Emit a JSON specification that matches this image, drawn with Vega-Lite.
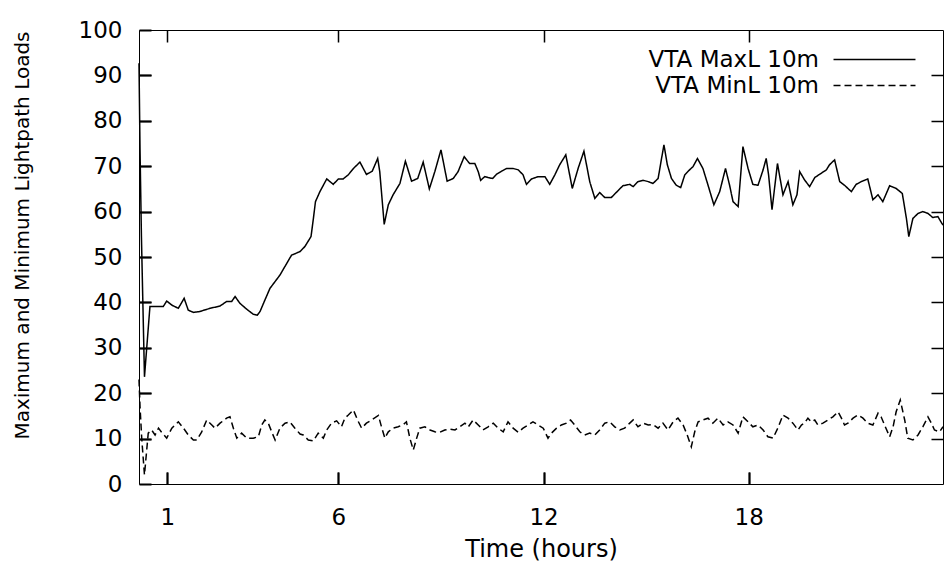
{
  "$schema": "https://vega.github.io/schema/vega-lite/v6.json",
  "width": 804,
  "height": 454,
  "autosize": {"type": "none"},
  "padding": {"left": 139, "top": 30, "right": 6, "bottom": 90},
  "background": "white",
  "config": {
    "font": "DejaVu Sans",
    "view": {"stroke": "#000", "strokeWidth": 1}
  },
  "data": {
    "values": [
      {"hours": 0.17, "load": 92.7, "series": "VTA MaxL 10m"},
      {"hours": 0.2, "load": 73.6, "series": "VTA MaxL 10m"},
      {"hours": 0.24, "load": 54.8, "series": "VTA MaxL 10m"},
      {"hours": 0.33, "load": 23.6, "series": "VTA MaxL 10m"},
      {"hours": 0.49, "load": 39.1, "series": "VTA MaxL 10m"},
      {"hours": 0.88, "load": 39.1, "series": "VTA MaxL 10m"},
      {"hours": 0.98, "load": 40.3, "series": "VTA MaxL 10m"},
      {"hours": 1.13, "load": 39.4, "series": "VTA MaxL 10m"},
      {"hours": 1.32, "load": 38.7, "series": "VTA MaxL 10m"},
      {"hours": 1.49, "load": 40.9, "series": "VTA MaxL 10m"},
      {"hours": 1.61, "load": 38.3, "series": "VTA MaxL 10m"},
      {"hours": 1.76, "load": 37.8, "series": "VTA MaxL 10m"},
      {"hours": 1.95, "load": 38.0, "series": "VTA MaxL 10m"},
      {"hours": 2.25, "load": 38.7, "series": "VTA MaxL 10m"},
      {"hours": 2.54, "load": 39.2, "series": "VTA MaxL 10m"},
      {"hours": 2.73, "load": 40.2, "series": "VTA MaxL 10m"},
      {"hours": 2.88, "load": 40.2, "series": "VTA MaxL 10m"},
      {"hours": 2.98, "load": 41.3, "series": "VTA MaxL 10m"},
      {"hours": 3.12, "load": 39.8, "series": "VTA MaxL 10m"},
      {"hours": 3.32, "load": 38.5, "series": "VTA MaxL 10m"},
      {"hours": 3.51, "load": 37.4, "series": "VTA MaxL 10m"},
      {"hours": 3.63, "load": 37.2, "series": "VTA MaxL 10m"},
      {"hours": 3.71, "load": 38.0, "series": "VTA MaxL 10m"},
      {"hours": 3.85, "load": 40.5, "series": "VTA MaxL 10m"},
      {"hours": 4.0, "load": 43.1, "series": "VTA MaxL 10m"},
      {"hours": 4.29, "load": 46.0, "series": "VTA MaxL 10m"},
      {"hours": 4.63, "load": 50.4, "series": "VTA MaxL 10m"},
      {"hours": 4.88, "load": 51.2, "series": "VTA MaxL 10m"},
      {"hours": 5.02, "load": 52.3, "series": "VTA MaxL 10m"},
      {"hours": 5.2, "load": 54.5, "series": "VTA MaxL 10m"},
      {"hours": 5.27, "load": 58.5, "series": "VTA MaxL 10m"},
      {"hours": 5.33, "load": 62.2, "series": "VTA MaxL 10m"},
      {"hours": 5.46, "load": 64.4, "series": "VTA MaxL 10m"},
      {"hours": 5.66, "load": 67.2, "series": "VTA MaxL 10m"},
      {"hours": 5.85, "load": 66.0, "series": "VTA MaxL 10m"},
      {"hours": 6.0, "load": 67.2, "series": "VTA MaxL 10m"},
      {"hours": 6.14, "load": 67.2, "series": "VTA MaxL 10m"},
      {"hours": 6.29, "load": 68.1, "series": "VTA MaxL 10m"},
      {"hours": 6.44, "load": 69.5, "series": "VTA MaxL 10m"},
      {"hours": 6.63, "load": 70.9, "series": "VTA MaxL 10m"},
      {"hours": 6.82, "load": 68.2, "series": "VTA MaxL 10m"},
      {"hours": 6.99, "load": 68.9, "series": "VTA MaxL 10m"},
      {"hours": 7.15, "load": 71.7, "series": "VTA MaxL 10m"},
      {"hours": 7.21, "load": 68.8, "series": "VTA MaxL 10m"},
      {"hours": 7.34, "load": 57.2, "series": "VTA MaxL 10m"},
      {"hours": 7.46, "load": 61.5, "series": "VTA MaxL 10m"},
      {"hours": 7.6, "load": 63.7, "series": "VTA MaxL 10m"},
      {"hours": 7.8, "load": 66.2, "series": "VTA MaxL 10m"},
      {"hours": 7.96, "load": 71.1, "series": "VTA MaxL 10m"},
      {"hours": 8.14, "load": 66.7, "series": "VTA MaxL 10m"},
      {"hours": 8.32, "load": 67.3, "series": "VTA MaxL 10m"},
      {"hours": 8.48, "load": 70.9, "series": "VTA MaxL 10m"},
      {"hours": 8.66, "load": 65.0, "series": "VTA MaxL 10m"},
      {"hours": 8.82, "load": 68.8, "series": "VTA MaxL 10m"},
      {"hours": 9.0, "load": 73.6, "series": "VTA MaxL 10m"},
      {"hours": 9.18, "load": 66.7, "series": "VTA MaxL 10m"},
      {"hours": 9.36, "load": 67.3, "series": "VTA MaxL 10m"},
      {"hours": 9.5, "load": 68.8, "series": "VTA MaxL 10m"},
      {"hours": 9.68, "load": 72.1, "series": "VTA MaxL 10m"},
      {"hours": 9.75, "load": 71.4, "series": "VTA MaxL 10m"},
      {"hours": 9.84, "load": 70.6, "series": "VTA MaxL 10m"},
      {"hours": 9.99, "load": 70.6, "series": "VTA MaxL 10m"},
      {"hours": 10.09, "load": 68.8, "series": "VTA MaxL 10m"},
      {"hours": 10.16, "load": 66.9, "series": "VTA MaxL 10m"},
      {"hours": 10.28, "load": 67.7, "series": "VTA MaxL 10m"},
      {"hours": 10.38, "load": 67.5, "series": "VTA MaxL 10m"},
      {"hours": 10.51, "load": 67.3, "series": "VTA MaxL 10m"},
      {"hours": 10.62, "load": 68.2, "series": "VTA MaxL 10m"},
      {"hours": 10.77, "load": 68.9, "series": "VTA MaxL 10m"},
      {"hours": 10.92, "load": 69.5, "series": "VTA MaxL 10m"},
      {"hours": 11.11, "load": 69.5, "series": "VTA MaxL 10m"},
      {"hours": 11.26, "load": 69.2, "series": "VTA MaxL 10m"},
      {"hours": 11.4, "load": 68.1, "series": "VTA MaxL 10m"},
      {"hours": 11.5, "load": 66.0, "series": "VTA MaxL 10m"},
      {"hours": 11.65, "load": 67.2, "series": "VTA MaxL 10m"},
      {"hours": 11.84, "load": 67.7, "series": "VTA MaxL 10m"},
      {"hours": 12.04, "load": 67.7, "series": "VTA MaxL 10m"},
      {"hours": 12.18, "load": 66.0, "series": "VTA MaxL 10m"},
      {"hours": 12.33, "load": 68.1, "series": "VTA MaxL 10m"},
      {"hours": 12.47, "load": 70.3, "series": "VTA MaxL 10m"},
      {"hours": 12.65, "load": 72.5, "series": "VTA MaxL 10m"},
      {"hours": 12.84, "load": 65.1, "series": "VTA MaxL 10m"},
      {"hours": 13.01, "load": 69.5, "series": "VTA MaxL 10m"},
      {"hours": 13.18, "load": 73.3, "series": "VTA MaxL 10m"},
      {"hours": 13.35, "load": 66.6, "series": "VTA MaxL 10m"},
      {"hours": 13.5, "load": 62.9, "series": "VTA MaxL 10m"},
      {"hours": 13.64, "load": 64.2, "series": "VTA MaxL 10m"},
      {"hours": 13.79, "load": 63.1, "series": "VTA MaxL 10m"},
      {"hours": 13.98, "load": 63.1, "series": "VTA MaxL 10m"},
      {"hours": 14.15, "load": 64.4, "series": "VTA MaxL 10m"},
      {"hours": 14.32, "load": 65.7, "series": "VTA MaxL 10m"},
      {"hours": 14.52, "load": 66.0, "series": "VTA MaxL 10m"},
      {"hours": 14.62, "load": 65.5, "series": "VTA MaxL 10m"},
      {"hours": 14.76, "load": 66.6, "series": "VTA MaxL 10m"},
      {"hours": 14.91, "load": 66.9, "series": "VTA MaxL 10m"},
      {"hours": 15.06, "load": 66.6, "series": "VTA MaxL 10m"},
      {"hours": 15.2, "load": 66.2, "series": "VTA MaxL 10m"},
      {"hours": 15.35, "load": 67.3, "series": "VTA MaxL 10m"},
      {"hours": 15.45, "load": 71.7, "series": "VTA MaxL 10m"},
      {"hours": 15.52, "load": 74.7, "series": "VTA MaxL 10m"},
      {"hours": 15.62, "load": 70.3, "series": "VTA MaxL 10m"},
      {"hours": 15.74, "load": 67.3, "series": "VTA MaxL 10m"},
      {"hours": 15.88, "load": 65.8, "series": "VTA MaxL 10m"},
      {"hours": 16.01, "load": 65.3, "series": "VTA MaxL 10m"},
      {"hours": 16.13, "load": 68.1, "series": "VTA MaxL 10m"},
      {"hours": 16.27, "load": 69.2, "series": "VTA MaxL 10m"},
      {"hours": 16.37, "load": 69.9, "series": "VTA MaxL 10m"},
      {"hours": 16.5, "load": 71.7, "series": "VTA MaxL 10m"},
      {"hours": 16.66, "load": 69.5, "series": "VTA MaxL 10m"},
      {"hours": 16.81, "load": 65.8, "series": "VTA MaxL 10m"},
      {"hours": 16.98, "load": 61.5, "series": "VTA MaxL 10m"},
      {"hours": 17.15, "load": 64.4, "series": "VTA MaxL 10m"},
      {"hours": 17.32, "load": 69.5, "series": "VTA MaxL 10m"},
      {"hours": 17.44, "load": 65.8, "series": "VTA MaxL 10m"},
      {"hours": 17.54, "load": 62.2, "series": "VTA MaxL 10m"},
      {"hours": 17.69, "load": 61.1, "series": "VTA MaxL 10m"},
      {"hours": 17.83, "load": 74.3, "series": "VTA MaxL 10m"},
      {"hours": 17.98, "load": 69.5, "series": "VTA MaxL 10m"},
      {"hours": 18.12, "load": 66.0, "series": "VTA MaxL 10m"},
      {"hours": 18.27, "load": 65.8, "series": "VTA MaxL 10m"},
      {"hours": 18.42, "load": 69.2, "series": "VTA MaxL 10m"},
      {"hours": 18.51, "load": 71.7, "series": "VTA MaxL 10m"},
      {"hours": 18.58, "load": 68.1, "series": "VTA MaxL 10m"},
      {"hours": 18.68, "load": 60.4, "series": "VTA MaxL 10m"},
      {"hours": 18.84, "load": 70.6, "series": "VTA MaxL 10m"},
      {"hours": 19.0, "load": 63.7, "series": "VTA MaxL 10m"},
      {"hours": 19.15, "load": 66.6, "series": "VTA MaxL 10m"},
      {"hours": 19.29, "load": 61.5, "series": "VTA MaxL 10m"},
      {"hours": 19.41, "load": 63.7, "series": "VTA MaxL 10m"},
      {"hours": 19.49, "load": 68.8, "series": "VTA MaxL 10m"},
      {"hours": 19.63, "load": 67.0, "series": "VTA MaxL 10m"},
      {"hours": 19.78, "load": 65.5, "series": "VTA MaxL 10m"},
      {"hours": 19.93, "load": 67.5, "series": "VTA MaxL 10m"},
      {"hours": 20.07, "load": 68.2, "series": "VTA MaxL 10m"},
      {"hours": 20.27, "load": 69.2, "series": "VTA MaxL 10m"},
      {"hours": 20.36, "load": 70.3, "series": "VTA MaxL 10m"},
      {"hours": 20.51, "load": 71.4, "series": "VTA MaxL 10m"},
      {"hours": 20.66, "load": 66.6, "series": "VTA MaxL 10m"},
      {"hours": 20.8, "load": 65.8, "series": "VTA MaxL 10m"},
      {"hours": 21.0, "load": 64.4, "series": "VTA MaxL 10m"},
      {"hours": 21.14, "load": 66.0, "series": "VTA MaxL 10m"},
      {"hours": 21.29, "load": 66.6, "series": "VTA MaxL 10m"},
      {"hours": 21.48, "load": 67.2, "series": "VTA MaxL 10m"},
      {"hours": 21.63, "load": 62.6, "series": "VTA MaxL 10m"},
      {"hours": 21.78, "load": 63.7, "series": "VTA MaxL 10m"},
      {"hours": 21.92, "load": 62.2, "series": "VTA MaxL 10m"},
      {"hours": 22.12, "load": 65.7, "series": "VTA MaxL 10m"},
      {"hours": 22.31, "load": 65.1, "series": "VTA MaxL 10m"},
      {"hours": 22.49, "load": 64.0, "series": "VTA MaxL 10m"},
      {"hours": 22.61, "load": 58.5, "series": "VTA MaxL 10m"},
      {"hours": 22.68, "load": 54.5, "series": "VTA MaxL 10m"},
      {"hours": 22.8, "load": 58.5, "series": "VTA MaxL 10m"},
      {"hours": 22.95, "load": 59.6, "series": "VTA MaxL 10m"},
      {"hours": 23.09, "load": 60.0, "series": "VTA MaxL 10m"},
      {"hours": 23.24, "load": 59.6, "series": "VTA MaxL 10m"},
      {"hours": 23.38, "load": 58.7, "series": "VTA MaxL 10m"},
      {"hours": 23.53, "load": 58.9, "series": "VTA MaxL 10m"},
      {"hours": 23.68, "load": 57.0, "series": "VTA MaxL 10m"},

      {"hours": 0.17, "load": 23.0, "series": "VTA MinL 10m"},
      {"hours": 0.2, "load": 17.0, "series": "VTA MinL 10m"},
      {"hours": 0.25, "load": 10.0, "series": "VTA MinL 10m"},
      {"hours": 0.33, "load": 2.0, "series": "VTA MinL 10m"},
      {"hours": 0.44, "load": 11.2, "series": "VTA MinL 10m"},
      {"hours": 0.54, "load": 11.9, "series": "VTA MinL 10m"},
      {"hours": 0.64, "load": 10.8, "series": "VTA MinL 10m"},
      {"hours": 0.74, "load": 12.3, "series": "VTA MinL 10m"},
      {"hours": 0.83, "load": 11.4, "series": "VTA MinL 10m"},
      {"hours": 0.98, "load": 10.1, "series": "VTA MinL 10m"},
      {"hours": 1.13, "load": 12.3, "series": "VTA MinL 10m"},
      {"hours": 1.32, "load": 13.7, "series": "VTA MinL 10m"},
      {"hours": 1.47, "load": 12.3, "series": "VTA MinL 10m"},
      {"hours": 1.61, "load": 10.8, "series": "VTA MinL 10m"},
      {"hours": 1.76, "load": 9.7, "series": "VTA MinL 10m"},
      {"hours": 1.86, "load": 9.7, "series": "VTA MinL 10m"},
      {"hours": 2.0, "load": 11.4, "series": "VTA MinL 10m"},
      {"hours": 2.15, "load": 14.1, "series": "VTA MinL 10m"},
      {"hours": 2.3, "load": 13.0, "series": "VTA MinL 10m"},
      {"hours": 2.39, "load": 12.3, "series": "VTA MinL 10m"},
      {"hours": 2.54, "load": 13.4, "series": "VTA MinL 10m"},
      {"hours": 2.73, "load": 14.5, "series": "VTA MinL 10m"},
      {"hours": 2.83, "load": 14.8, "series": "VTA MinL 10m"},
      {"hours": 2.93, "load": 12.3, "series": "VTA MinL 10m"},
      {"hours": 3.03, "load": 10.1, "series": "VTA MinL 10m"},
      {"hours": 3.17, "load": 11.2, "series": "VTA MinL 10m"},
      {"hours": 3.32, "load": 10.1, "series": "VTA MinL 10m"},
      {"hours": 3.51, "load": 10.1, "series": "VTA MinL 10m"},
      {"hours": 3.66, "load": 10.4, "series": "VTA MinL 10m"},
      {"hours": 3.76, "load": 13.0, "series": "VTA MinL 10m"},
      {"hours": 3.85, "load": 14.1, "series": "VTA MinL 10m"},
      {"hours": 3.95, "load": 13.4, "series": "VTA MinL 10m"},
      {"hours": 4.05, "load": 11.5, "series": "VTA MinL 10m"},
      {"hours": 4.15, "load": 9.7, "series": "VTA MinL 10m"},
      {"hours": 4.29, "load": 12.3, "series": "VTA MinL 10m"},
      {"hours": 4.44, "load": 13.4, "series": "VTA MinL 10m"},
      {"hours": 4.58, "load": 13.7, "series": "VTA MinL 10m"},
      {"hours": 4.73, "load": 12.3, "series": "VTA MinL 10m"},
      {"hours": 4.88, "load": 11.0, "series": "VTA MinL 10m"},
      {"hours": 4.97, "load": 10.8, "series": "VTA MinL 10m"},
      {"hours": 5.12, "load": 9.7, "series": "VTA MinL 10m"},
      {"hours": 5.27, "load": 9.5, "series": "VTA MinL 10m"},
      {"hours": 5.41, "load": 11.2, "series": "VTA MinL 10m"},
      {"hours": 5.56, "load": 10.1, "series": "VTA MinL 10m"},
      {"hours": 5.66, "load": 11.9, "series": "VTA MinL 10m"},
      {"hours": 5.8, "load": 13.4, "series": "VTA MinL 10m"},
      {"hours": 5.95, "load": 13.9, "series": "VTA MinL 10m"},
      {"hours": 6.09, "load": 12.6, "series": "VTA MinL 10m"},
      {"hours": 6.19, "load": 14.5, "series": "VTA MinL 10m"},
      {"hours": 6.29, "load": 15.2, "series": "VTA MinL 10m"},
      {"hours": 6.44, "load": 16.3, "series": "VTA MinL 10m"},
      {"hours": 6.56, "load": 14.1, "series": "VTA MinL 10m"},
      {"hours": 6.68, "load": 12.3, "series": "VTA MinL 10m"},
      {"hours": 6.82, "load": 13.4, "series": "VTA MinL 10m"},
      {"hours": 6.97, "load": 14.1, "series": "VTA MinL 10m"},
      {"hours": 7.17, "load": 15.1, "series": "VTA MinL 10m"},
      {"hours": 7.26, "load": 12.6, "series": "VTA MinL 10m"},
      {"hours": 7.36, "load": 10.1, "series": "VTA MinL 10m"},
      {"hours": 7.46, "load": 11.5, "series": "VTA MinL 10m"},
      {"hours": 7.6, "load": 12.3, "series": "VTA MinL 10m"},
      {"hours": 7.75, "load": 12.6, "series": "VTA MinL 10m"},
      {"hours": 7.9, "load": 13.1, "series": "VTA MinL 10m"},
      {"hours": 7.99, "load": 13.7, "series": "VTA MinL 10m"},
      {"hours": 8.09, "load": 10.1, "series": "VTA MinL 10m"},
      {"hours": 8.19, "load": 7.5, "series": "VTA MinL 10m"},
      {"hours": 8.29, "load": 10.1, "series": "VTA MinL 10m"},
      {"hours": 8.38, "load": 12.3, "series": "VTA MinL 10m"},
      {"hours": 8.53, "load": 12.6, "series": "VTA MinL 10m"},
      {"hours": 8.68, "load": 11.9, "series": "VTA MinL 10m"},
      {"hours": 8.82, "load": 11.5, "series": "VTA MinL 10m"},
      {"hours": 8.97, "load": 11.4, "series": "VTA MinL 10m"},
      {"hours": 9.11, "load": 11.9, "series": "VTA MinL 10m"},
      {"hours": 9.26, "load": 12.1, "series": "VTA MinL 10m"},
      {"hours": 9.41, "load": 11.9, "series": "VTA MinL 10m"},
      {"hours": 9.55, "load": 12.6, "series": "VTA MinL 10m"},
      {"hours": 9.7, "load": 13.4, "series": "VTA MinL 10m"},
      {"hours": 9.8, "load": 12.6, "series": "VTA MinL 10m"},
      {"hours": 9.94, "load": 14.1, "series": "VTA MinL 10m"},
      {"hours": 10.09, "load": 13.0, "series": "VTA MinL 10m"},
      {"hours": 10.23, "load": 11.9, "series": "VTA MinL 10m"},
      {"hours": 10.38, "load": 12.6, "series": "VTA MinL 10m"},
      {"hours": 10.53, "load": 13.4, "series": "VTA MinL 10m"},
      {"hours": 10.67, "load": 12.3, "series": "VTA MinL 10m"},
      {"hours": 10.82, "load": 11.5, "series": "VTA MinL 10m"},
      {"hours": 10.96, "load": 13.7, "series": "VTA MinL 10m"},
      {"hours": 11.11, "load": 12.3, "series": "VTA MinL 10m"},
      {"hours": 11.26, "load": 11.4, "series": "VTA MinL 10m"},
      {"hours": 11.4, "load": 12.3, "series": "VTA MinL 10m"},
      {"hours": 11.55, "load": 13.0, "series": "VTA MinL 10m"},
      {"hours": 11.69, "load": 13.7, "series": "VTA MinL 10m"},
      {"hours": 11.84, "load": 13.0, "series": "VTA MinL 10m"},
      {"hours": 11.99, "load": 12.3, "series": "VTA MinL 10m"},
      {"hours": 12.13, "load": 10.1, "series": "VTA MinL 10m"},
      {"hours": 12.23, "load": 11.2, "series": "VTA MinL 10m"},
      {"hours": 12.38, "load": 12.3, "series": "VTA MinL 10m"},
      {"hours": 12.52, "load": 13.0, "series": "VTA MinL 10m"},
      {"hours": 12.67, "load": 13.4, "series": "VTA MinL 10m"},
      {"hours": 12.79, "load": 14.1, "series": "VTA MinL 10m"},
      {"hours": 12.91, "load": 13.0, "series": "VTA MinL 10m"},
      {"hours": 13.06, "load": 11.5, "series": "VTA MinL 10m"},
      {"hours": 13.2, "load": 10.8, "series": "VTA MinL 10m"},
      {"hours": 13.35, "load": 11.2, "series": "VTA MinL 10m"},
      {"hours": 13.5, "load": 10.8, "series": "VTA MinL 10m"},
      {"hours": 13.64, "load": 11.9, "series": "VTA MinL 10m"},
      {"hours": 13.79, "load": 13.4, "series": "VTA MinL 10m"},
      {"hours": 13.93, "load": 13.7, "series": "VTA MinL 10m"},
      {"hours": 14.08, "load": 12.6, "series": "VTA MinL 10m"},
      {"hours": 14.23, "load": 11.9, "series": "VTA MinL 10m"},
      {"hours": 14.37, "load": 12.3, "series": "VTA MinL 10m"},
      {"hours": 14.52, "load": 13.4, "series": "VTA MinL 10m"},
      {"hours": 14.62, "load": 14.1, "series": "VTA MinL 10m"},
      {"hours": 14.76, "load": 12.6, "series": "VTA MinL 10m"},
      {"hours": 14.91, "load": 13.4, "series": "VTA MinL 10m"},
      {"hours": 15.06, "load": 13.0, "series": "VTA MinL 10m"},
      {"hours": 15.2, "load": 13.1, "series": "VTA MinL 10m"},
      {"hours": 15.35, "load": 12.3, "series": "VTA MinL 10m"},
      {"hours": 15.49, "load": 13.4, "series": "VTA MinL 10m"},
      {"hours": 15.64, "load": 11.9, "series": "VTA MinL 10m"},
      {"hours": 15.79, "load": 13.7, "series": "VTA MinL 10m"},
      {"hours": 15.93, "load": 14.5, "series": "VTA MinL 10m"},
      {"hours": 16.08, "load": 13.0, "series": "VTA MinL 10m"},
      {"hours": 16.2, "load": 10.8, "series": "VTA MinL 10m"},
      {"hours": 16.32, "load": 8.2, "series": "VTA MinL 10m"},
      {"hours": 16.42, "load": 11.5, "series": "VTA MinL 10m"},
      {"hours": 16.52, "load": 13.7, "series": "VTA MinL 10m"},
      {"hours": 16.66, "load": 14.1, "series": "VTA MinL 10m"},
      {"hours": 16.81, "load": 14.5, "series": "VTA MinL 10m"},
      {"hours": 16.95, "load": 13.4, "series": "VTA MinL 10m"},
      {"hours": 17.1, "load": 14.5, "series": "VTA MinL 10m"},
      {"hours": 17.25, "load": 13.0, "series": "VTA MinL 10m"},
      {"hours": 17.39, "load": 13.7, "series": "VTA MinL 10m"},
      {"hours": 17.54, "load": 13.0, "series": "VTA MinL 10m"},
      {"hours": 17.69, "load": 11.2, "series": "VTA MinL 10m"},
      {"hours": 17.83, "load": 14.8, "series": "VTA MinL 10m"},
      {"hours": 17.98, "load": 13.7, "series": "VTA MinL 10m"},
      {"hours": 18.12, "load": 12.6, "series": "VTA MinL 10m"},
      {"hours": 18.27, "load": 13.0, "series": "VTA MinL 10m"},
      {"hours": 18.42, "load": 11.9, "series": "VTA MinL 10m"},
      {"hours": 18.56, "load": 10.4, "series": "VTA MinL 10m"},
      {"hours": 18.71, "load": 10.1, "series": "VTA MinL 10m"},
      {"hours": 18.85, "load": 12.3, "series": "VTA MinL 10m"},
      {"hours": 19.0, "load": 15.2, "series": "VTA MinL 10m"},
      {"hours": 19.15, "load": 14.5, "series": "VTA MinL 10m"},
      {"hours": 19.29, "load": 13.4, "series": "VTA MinL 10m"},
      {"hours": 19.44, "load": 11.9, "series": "VTA MinL 10m"},
      {"hours": 19.54, "load": 13.0, "series": "VTA MinL 10m"},
      {"hours": 19.63, "load": 13.4, "series": "VTA MinL 10m"},
      {"hours": 19.73, "load": 14.5, "series": "VTA MinL 10m"},
      {"hours": 19.83, "load": 13.7, "series": "VTA MinL 10m"},
      {"hours": 19.93, "load": 14.1, "series": "VTA MinL 10m"},
      {"hours": 20.02, "load": 13.0, "series": "VTA MinL 10m"},
      {"hours": 20.17, "load": 13.4, "series": "VTA MinL 10m"},
      {"hours": 20.32, "load": 14.1, "series": "VTA MinL 10m"},
      {"hours": 20.46, "load": 14.8, "series": "VTA MinL 10m"},
      {"hours": 20.61, "load": 15.9, "series": "VTA MinL 10m"},
      {"hours": 20.71, "load": 14.5, "series": "VTA MinL 10m"},
      {"hours": 20.8, "load": 13.0, "series": "VTA MinL 10m"},
      {"hours": 20.9, "load": 13.4, "series": "VTA MinL 10m"},
      {"hours": 21.05, "load": 14.5, "series": "VTA MinL 10m"},
      {"hours": 21.19, "load": 15.2, "series": "VTA MinL 10m"},
      {"hours": 21.34, "load": 14.5, "series": "VTA MinL 10m"},
      {"hours": 21.48, "load": 13.4, "series": "VTA MinL 10m"},
      {"hours": 21.63, "load": 13.0, "series": "VTA MinL 10m"},
      {"hours": 21.78, "load": 15.6, "series": "VTA MinL 10m"},
      {"hours": 21.87, "load": 14.8, "series": "VTA MinL 10m"},
      {"hours": 21.97, "load": 13.0, "series": "VTA MinL 10m"},
      {"hours": 22.12, "load": 10.4, "series": "VTA MinL 10m"},
      {"hours": 22.22, "load": 12.6, "series": "VTA MinL 10m"},
      {"hours": 22.31, "load": 15.9, "series": "VTA MinL 10m"},
      {"hours": 22.43, "load": 18.5, "series": "VTA MinL 10m"},
      {"hours": 22.56, "load": 14.1, "series": "VTA MinL 10m"},
      {"hours": 22.65, "load": 10.1, "series": "VTA MinL 10m"},
      {"hours": 22.8, "load": 9.7, "series": "VTA MinL 10m"},
      {"hours": 22.95, "load": 10.8, "series": "VTA MinL 10m"},
      {"hours": 23.09, "load": 12.6, "series": "VTA MinL 10m"},
      {"hours": 23.24, "load": 14.8, "series": "VTA MinL 10m"},
      {"hours": 23.34, "load": 13.4, "series": "VTA MinL 10m"},
      {"hours": 23.43, "load": 11.9, "series": "VTA MinL 10m"},
      {"hours": 23.58, "load": 11.5, "series": "VTA MinL 10m"},
      {"hours": 23.68, "load": 12.6, "series": "VTA MinL 10m"}
    ]
  },
  "layer": [
    {
      "mark": {"type": "line", "stroke": "#000", "strokeWidth": 1.5},
      "encoding": {
        "x": {
          "field": "hours",
          "type": "quantitative",
          "scale": {"domain": [0.17, 23.68], "nice": false, "zero": false},
          "axis": {
            "orient": "bottom",
            "values": [1, 6, 12, 18],
            "offset": -12,
            "domainOpacity": 0,
            "grid": false,
            "tickSize": 12,
            "tickColor": "black",
            "tickWidth": 2,
            "labelPadding": 22,
            "labelFont": "DejaVu Sans",
            "labelFontSize": 23,
            "labelColor": "#000",
            "title": "Time (hours)",
            "titleFont": "DejaVu Sans",
            "titleFontSize": 24,
            "titleFontWeight": "normal",
            "titleColor": "#000",
            "titlePadding": 8
          }
        },
        "y": {
          "field": "load",
          "type": "quantitative",
          "scale": {"domain": [0, 100], "nice": false},
          "axis": {
            "orient": "left",
            "values": [0, 10, 20, 30, 40, 50, 60, 70, 80, 90, 100],
            "offset": -12,
            "domainOpacity": 0,
            "grid": false,
            "tickSize": 12,
            "tickColor": "black",
            "tickWidth": 2,
            "labelPadding": 17,
            "labelFont": "DejaVu Sans",
            "labelFontSize": 23,
            "labelColor": "#000",
            "title": "Maximum and Minimum Lightpath Loads",
            "titleFont": "DejaVu Sans",
            "titleFontSize": 20,
            "titleFontWeight": "normal",
            "titleColor": "#000",
            "titleAngle": -90,
            "titleAlign": "center",
            "titleBaseline": "middle",
            "titleX": -129,
            "titleY": 205
          }
        },
        "strokeDash": {
          "field": "series",
          "type": "nominal",
          "scale": {"domain": ["VTA MaxL 10m", "VTA MinL 10m"], "range": [[1, 0], [7, 4]]},
          "legend": {
            "title": null,
            "orient": "none",
            "legendX": 724,
            "legendY": 18,
            "padding": 0,
            "symbolType": "M-4,0H4",
            "symbolSize": 420,
            "symbolStrokeColor": "#000",
            "symbolStrokeWidth": 1.3,
            "labelAlign": "right",
            "labelOffset": -67,
            "labelLimit": 0,
            "labelFont": "DejaVu Sans",
            "labelFontSize": 23,
            "labelColor": "#000",
            "rowPadding": 2
          }
        }
      }
    },
    {
      "mark": {"type": "point", "opacity": 0},
      "encoding": {
        "x": {
          "field": "hours",
          "type": "quantitative",
          "axis": {
            "orient": "top",
            "values": [1, 6, 12, 18],
            "domain": false,
            "ticks": false,
            "labels": false,
            "title": null,
            "grid": true,
            "gridColor": "black",
            "gridOpacity": 1,
            "gridWidth": 1.5,
            "gridDash": [12, 430, 12, 2000]
          }
        },
        "y": {
          "field": "load",
          "type": "quantitative",
          "axis": {
            "orient": "right",
            "values": [10, 20, 30, 40, 50, 60, 70, 80, 90],
            "domain": false,
            "ticks": false,
            "labels": false,
            "title": null,
            "grid": true,
            "gridColor": "black",
            "gridOpacity": 1,
            "gridWidth": 1.5,
            "gridDash": [12, 780, 12, 2000]
          }
        }
      }
    }
  ],
  "resolve": {"axis": {"x": "independent", "y": "independent"}}
}
